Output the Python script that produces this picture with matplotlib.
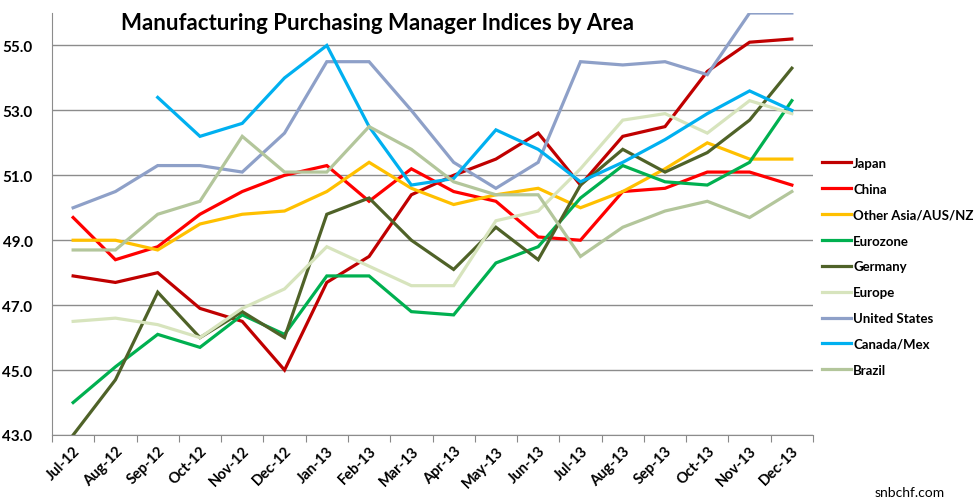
import matplotlib
matplotlib.use('Agg')
import matplotlib.pyplot as plt
import numpy as np

months = ['Jul-12', 'Aug-12', 'Sep-12', 'Oct-12', 'Nov-12', 'Dec-12',
          'Jan-13', 'Feb-13', 'Mar-13', 'Apr-13', 'May-13', 'Jun-13',
          'Jul-13', 'Aug-13', 'Sep-13', 'Oct-13', 'Nov-13', 'Dec-13']

japan = [47.9, 47.7, 48.0, 46.9, 46.5, 45.0, 47.7, 48.5, 50.4, 51.0, 51.5, 52.3,
         50.7, 52.2, 52.5, 54.2, 55.1, 55.2]
china = [49.7, 48.4, 48.8, 49.8, 50.5, 51.0, 51.3, 50.2, 51.2, 50.5, 50.2, 49.1,
         49.0, 50.5, 50.6, 51.1, 51.1, 50.7]
other_asia = [49.0, 49.0, 48.7, 49.5, 49.8, 49.9, 50.5, 51.4, 50.6, 50.1, 50.4, 50.6,
              50.0, 50.5, 51.2, 52.0, 51.5, 51.5]
eurozone = [44.0, 45.1, 46.1, 45.7, 46.7, 46.1, 47.9, 47.9, 46.8, 46.7, 48.3, 48.8,
            50.3, 51.3, 50.8, 50.7, 51.4, 53.3]
germany = [43.0, 44.7, 47.4, 46.0, 46.8, 46.0, 49.8, 50.3, 49.0, 48.1, 49.4, 48.4,
           50.7, 51.8, 51.1, 51.7, 52.7, 54.3]
europe = [46.5, 46.6, 46.4, 46.0, 46.9, 47.5, 48.8, 48.2, 47.6, 47.6, 49.6, 49.9,
          51.2, 52.7, 52.9, 52.3, 53.3, 52.9]
united_states = [50.0, 50.5, 51.3, 51.3, 51.1, 52.3, 54.5, 54.5, 53.0, 51.4, 50.6, 51.4,
                 54.5, 54.4, 54.5, 54.1, 56.0, 56.0]
canada_mex = [np.nan, np.nan, 53.4, 52.2, 52.6, 54.0, 55.0, 52.5, 50.7, 50.9, 52.4, 51.8,
              50.8, 51.4, 52.1, 52.9, 53.6, 53.0]
brazil = [48.7, 48.7, 49.8, 50.2, 52.2, 51.1, 51.1, 52.5, 51.8, 50.8, 50.4, 50.4,
          48.5, 49.4, 49.9, 50.2, 49.7, 50.5]

series = [
    ('Japan', japan, '#C00000'),
    ('China', china, '#FF0000'),
    ('Other Asia/AUS/NZ', other_asia, '#FFC000'),
    ('Eurozone', eurozone, '#00B050'),
    ('Germany', germany, '#4F6228'),
    ('Europe', europe, '#D7E4BD'),
    ('United States', united_states, '#8EA0C8'),
    ('Canada/Mex', canada_mex, '#00B0F0'),
    ('Brazil', brazil, '#B3C69B'),
]

y_ticks = [43, 45, 47, 49, 51, 53, 55]

plt.rcParams['font.family'] = ['Lato', 'DejaVu Sans']

fig = plt.figure(figsize=(9.79, 5.02), dpi=100)
ax = fig.add_axes([52 / 979, 1 - 436 / 502, (813 - 52) / 979, (436 - 14) / 502])

x = np.arange(len(months))
for name, values, color in series:
    ax.plot(x, values, color=color, linewidth=2.3, label=name, solid_joinstyle='miter')

ax.set_xlim(-0.5, len(months) - 0.5)
ax.set_ylim(43, 56)

# category boundaries carry the tick marks, labels sit in the middle
ax.set_xticks(np.arange(len(months) + 1) - 0.5)
ax.set_xticklabels([])
ax.set_xticks(x, minor=True)
ax.set_xticklabels(months, minor=True, rotation=45, ha='right',
                   rotation_mode='anchor', fontsize=10.5, fontweight='bold')
ax.tick_params(axis='x', which='major', length=5, color='#888888', direction='out')
ax.tick_params(axis='x', which='minor', length=0, pad=6)

ax.set_yticks(y_ticks)
ax.set_yticklabels(['{:0.1f}'.format(v) for v in y_ticks], fontsize=11, fontweight='bold')
ax.tick_params(axis='y', length=0, pad=14)

ax.grid(True, axis='y', color='#8C8C8C', linewidth=1)
ax.set_axisbelow(True)
for side in ['top', 'right']:
    ax.spines[side].set_visible(False)
ax.spines['left'].set_color('#8C8C8C')
ax.spines['bottom'].set_color('#8C8C8C')

fig.text(378 / 979, 1 - 23 / 502, 'Manufacturing Purchasing Manager Indices by Area',
         ha='center', va='center', fontsize=16, fontweight='bold')

ax.legend(loc='upper left', bbox_to_anchor=(822 / 979, 1 - 158 / 502),
          bbox_transform=fig.transFigure, frameon=False,
          prop={'weight': 'bold', 'size': 9.5}, handlelength=2.2,
          handletextpad=0.15, labelspacing=1.05, borderpad=0, borderaxespad=0)

fig.text(910 / 979, 1 - 493 / 502, 'snbchf.com', ha='center', va='center', fontsize=10)

fig.savefig('out.png', dpi=100)
